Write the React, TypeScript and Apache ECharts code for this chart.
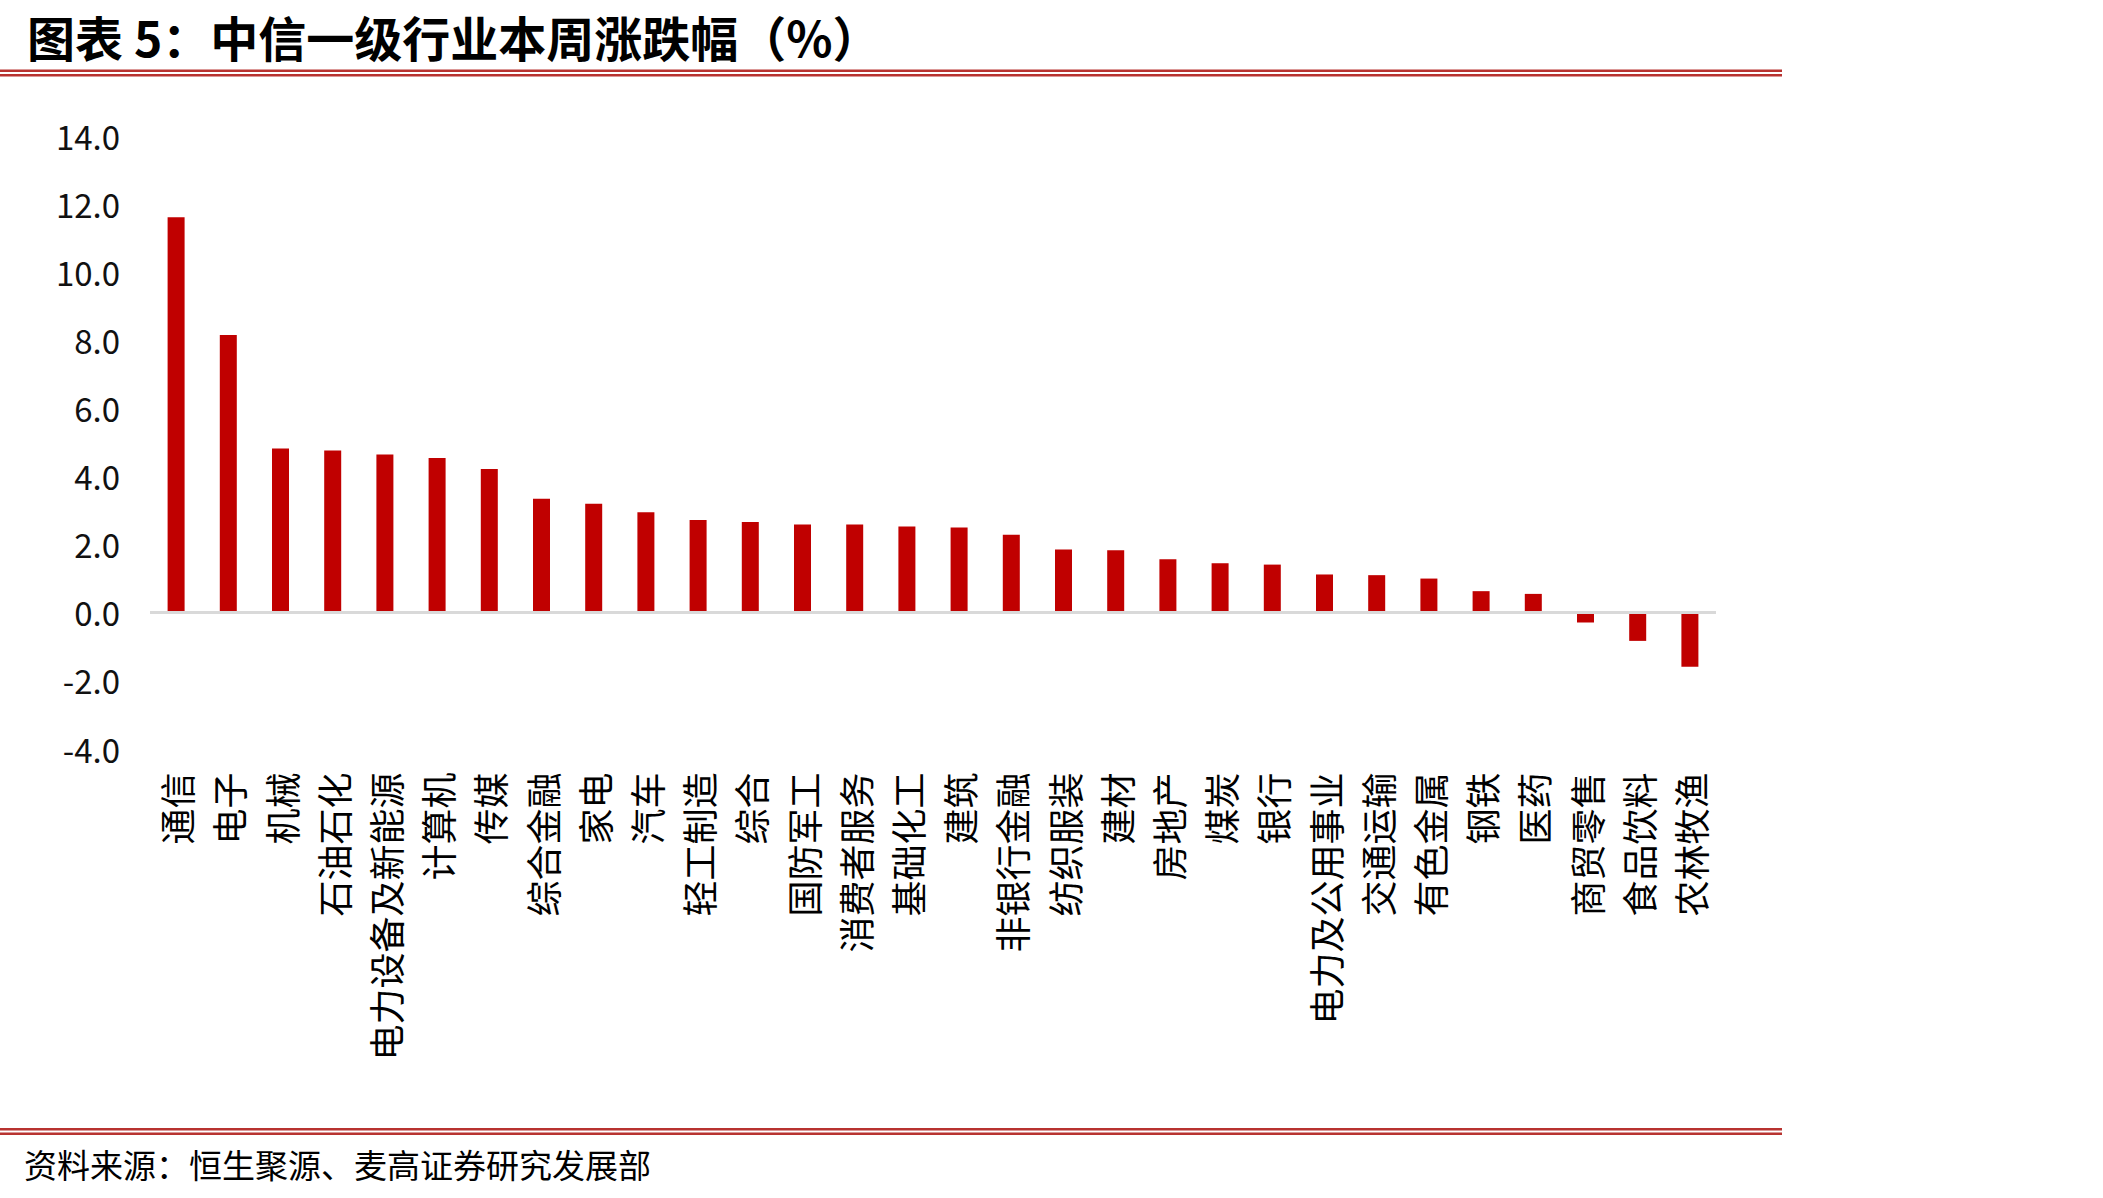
import React, { useEffect, useRef } from "react";
import * as echarts from "echarts";

const titleText = "图表 5：中信一级行业本周涨跌幅（%）";
const sourceText = "资料来源：恒生聚源、麦高证券研究发展部";

const categories = [
  "通信", "电子", "机械", "石油石化", "电力设备及新能源", "计算机", "传媒", "综合金融",
  "家电", "汽车", "轻工制造", "综合", "国防军工", "消费者服务", "基础化工", "建筑",
  "非银行金融", "纺织服装", "建材", "房地产", "煤炭", "银行", "电力及公用事业", "交通运输",
  "有色金属", "钢铁", "医药", "商贸零售", "食品饮料", "农林牧渔",
];

const weeklyChange = [
  11.6, 8.14, 4.81, 4.75, 4.63, 4.53, 4.21, 3.33,
  3.19, 2.94, 2.71, 2.65, 2.58, 2.58, 2.52, 2.49,
  2.28, 1.84, 1.82, 1.56, 1.44, 1.40, 1.11, 1.09,
  0.99, 0.62, 0.54, -0.30, -0.84, -1.60,
];

const yMin = -4;
const yMax = 14;
const yInterval = 2;

const W = 2103;
const H = 1198;

export default function App() {
  const ref = useRef<HTMLDivElement>(null);

  useEffect(() => {
    if (!ref.current) return;
    const chart = echarts.init(ref.current, undefined, { renderer: "svg", width: W, height: H });
    const lineColor = "#B83330";
    const cjk = '"Noto Sans CJK SC", "Noto Sans", sans-serif';
    chart.setOption({
      animation: false,
      backgroundColor: "#ffffff",
      grid: {
        left: 150,
        top: 135.5,
        width: 1566,
        height: 613,
        containLabel: false,
      },
      xAxis: {
        type: "category",
        data: categories,
        axisLine: { show: false, onZero: false },
        axisTick: { show: false },
        splitLine: { show: false },
        axisLabel: {
          interval: 0,
          rotate: 90,
          margin: 24,
          fontSize: 36,
          color: "#000000",
          fontFamily: cjk,
        },
      },
      yAxis: {
        type: "value",
        min: yMin,
        max: yMax,
        interval: yInterval,
        axisLine: { show: false },
        axisTick: { show: false },
        splitLine: { show: false },
        axisLabel: {
          margin: 30,
          fontSize: 33,
          color: "#111111",
          fontFamily: cjk,
          formatter: (v: number) => v.toFixed(1),
        },
      },
      series: [
        {
          type: "bar",
          data: weeklyChange,
          barWidth: 17,
          itemStyle: { color: "#C00000" },
          markLine: {
            silent: true,
            symbol: "none",
            label: { show: false },
            lineStyle: { color: "#D9D9D9", width: 3, type: "solid" },
            data: [{ yAxis: 0 }],
          },
        },
      ],
      graphic: [
        {
          type: "text",
          x: 27,
          y: 36,
          style: {
            text: titleText,
            font: `bold 48px ${cjk}`,
            fill: "#000000",
            textVerticalAlign: "middle",
            verticalAlign: "middle",
            lineHeight: 56,
          },
        },
        {
          type: "rect",
          shape: { x: 0, y: 69.5, width: 1782, height: 2.5 },
          style: { fill: lineColor },
        },
        {
          type: "rect",
          shape: { x: 0, y: 74, width: 1782, height: 2.5 },
          style: { fill: lineColor },
        },
        {
          type: "rect",
          shape: { x: 0, y: 1128, width: 1782, height: 2.5 },
          style: { fill: lineColor },
        },
        {
          type: "rect",
          shape: { x: 0, y: 1132.5, width: 1782, height: 2.5 },
          style: { fill: lineColor },
        },
        {
          type: "text",
          x: 24,
          y: 1164,
          style: {
            text: sourceText,
            font: `33px ${cjk}`,
            fill: "#000000",
            textVerticalAlign: "middle",
            verticalAlign: "middle",
          },
        },
      ],
    });
    return () => chart.dispose();
  }, []);

  return (
    <div
      ref={ref}
      style={{ position: "absolute", left: 0, top: 0, width: W, height: H, background: "#fff" }}
    />
  );
}
